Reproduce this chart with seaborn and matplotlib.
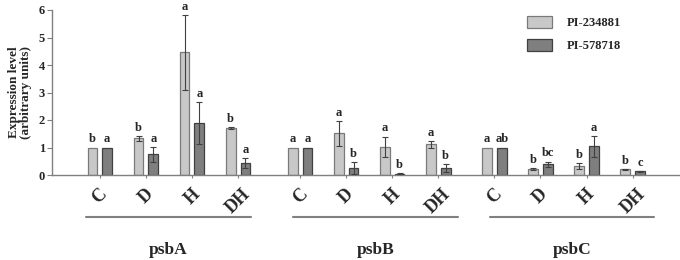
import matplotlib
matplotlib.use("Agg")
import matplotlib.pyplot as plt
import matplotlib.transforms as mtransforms
from matplotlib.lines import Line2D
import seaborn as sns
import pandas as pd

# data
genes = ["psbA", "psbB", "psbC"]
treatments = ["C", "D", "H", "DH"]
cultivars = ["PI-234881", "PI-578718"]

pi234881_mean = [1.00, 1.33, 4.46, 1.72,
                 1.00, 1.51, 1.02, 1.12,
                 1.00, 0.22, 0.32, 0.21]
pi234881_err = [0.00, 0.10, 1.36, 0.04,
                0.00, 0.46, 0.38, 0.13,
                0.00, 0.02, 0.10, 0.02]
pi578718_mean = [1.00, 0.75, 1.88, 0.44,
                 1.00, 0.26, 0.05, 0.26,
                 1.00, 0.39, 1.04, 0.13]
pi578718_err = [0.00, 0.27, 0.77, 0.19,
                0.00, 0.21, 0.02, 0.15,
                0.00, 0.10, 0.37, 0.02]
pi234881_letters = ["b", "b", "a", "b", "a", "a", "a", "a", "a", "b", "b", "b"]
pi578718_letters = ["a", "a", "a", "a", "a", "b", "b", "b", "ab", "bc", "a", "c"]

# layout
group_start = [0.0, 4.35, 8.57]
total_width = 0.64
bar_gap = 0.34
light, dark = "#c8c8c8", "#7f7f7f"
edges = ["#7a7a7a", "#404040"]

sns.set_style("ticks")
plt.rcParams["font.family"] = ["Liberation Serif", "DejaVu Serif"]
plt.rcParams["font.weight"] = "bold"

positions = [g + i for g in group_start for i in range(len(treatments))]
rows = []
for k, pos in enumerate(positions):
    rows.append({"pos": pos, "cultivar": cultivars[0], "value": pi234881_mean[k],
                 "err": pi234881_err[k], "letter": pi234881_letters[k], "side": -1})
    rows.append({"pos": pos, "cultivar": cultivars[1], "value": pi578718_mean[k],
                 "err": pi578718_err[k], "letter": pi578718_letters[k], "side": 1})
df = pd.DataFrame(rows)

fig = plt.figure(figsize=(6.8, 2.6), dpi=100)
ax = fig.add_axes([52 / 680, 1 - 175 / 260, 628 / 680, 165 / 260])

sns.barplot(data=df, x="pos", y="value", hue="cultivar", hue_order=cultivars,
            palette=[light, dark], native_scale=True, width=total_width,
            gap=bar_gap, errorbar=None, ax=ax, legend=False)

for bars, ec in zip(ax.containers, edges):
    for p in bars:
        p.set_edgecolor(ec)
        p.set_linewidth(0.9)

# error bars and significance letters
for _, r in df.iterrows():
    cx = r["pos"] + r["side"] * total_width / 4
    if r["err"] > 0:
        ax.errorbar(cx, r["value"], yerr=r["err"], fmt="none", ecolor="#404040",
                    elinewidth=0.8, capsize=2.2, capthick=0.8, zorder=5)
    ax.annotate(r["letter"], (cx, r["value"] + r["err"]), xytext=(0, 1.5),
                textcoords="offset points", ha="center", va="bottom",
                fontsize=9, fontweight="bold")

ax.set_xlim(-1.04, 12.6)
ax.set_ylim(0, 6)
ax.set_yticks(range(0, 7))
ax.set_xticks(positions)
ax.set_xticklabels(treatments * len(genes), rotation=45, fontsize=13,
                   fontweight="bold", ha="center")
ax.tick_params(axis="x", length=2.5, pad=5, color="#808080")
ax.tick_params(axis="y", length=3.5, pad=1.5, labelsize=9, color="#808080")
ax.set_xlabel("")
ax.set_ylabel("Expression level\n(arbitrary units)", fontsize=9.5,
              fontweight="bold", labelpad=5, linespacing=1.0)
sns.despine(ax=ax)
for s in ["left", "bottom"]:
    ax.spines[s].set_color("#808080")
    ax.spines[s].set_linewidth(1.0)

# group underlines and gene names
trans = mtransforms.blended_transform_factory(ax.transData, fig.transFigure)
line_span = [(-0.3, 3.28), (-0.15, 3.43), (-0.09, 3.47)]
for g, start, (a, b) in zip(genes, group_start, line_span):
    fig.add_artist(Line2D([start + a, start + b], [1 - 217 / 260] * 2,
                          transform=trans, color="#808080", lw=1.5))
    fig.text(start + (a + b) / 2, 1 - 250 / 260, g, transform=trans,
             ha="center", va="center", fontsize=12.5, fontweight="bold")

handles = [plt.Rectangle((0, 0), 1, 1, facecolor=c, edgecolor=ec, linewidth=0.9)
           for c, ec in zip([light, dark], edges)]
ax.legend(handles, cultivars, loc="upper left",
          bbox_to_anchor=(527 / 680, 1 - 16 / 260),
          bbox_transform=fig.transFigure, frameon=False, borderpad=0,
          borderaxespad=0, handlelength=2.0, handleheight=1.1,
          handletextpad=1.2, labelspacing=0.75,
          prop={"size": 9, "weight": "bold"})

fig.savefig("out.png", dpi=100)
